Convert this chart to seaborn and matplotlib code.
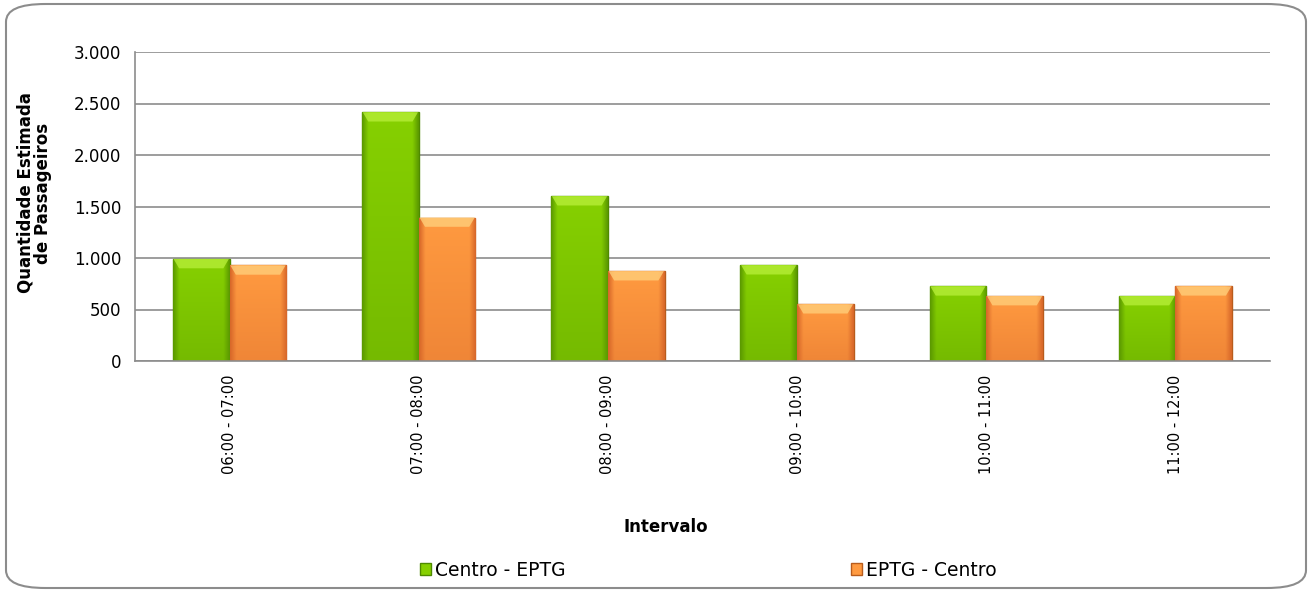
import numpy as np
import pandas as pd
import matplotlib
matplotlib.use("Agg")
import matplotlib.pyplot as plt
import seaborn as sns
from matplotlib.patches import FancyBboxPatch, Patch, Polygon
from matplotlib.ticker import FuncFormatter

intervalos = ["06:00 - 07:00", "07:00 - 08:00", "08:00 - 09:00",
              "09:00 - 10:00", "10:00 - 11:00", "11:00 - 12:00"]
centro_eptg = [990, 2415, 1600, 930, 725, 630]
eptg_centro = [928, 1393, 872, 551, 630, 725]
series = ["Centro - EPTG", "EPTG - Centro"]

df = pd.DataFrame({
    "Intervalo": intervalos * 2,
    "Valor": centro_eptg + eptg_centro,
    "Sentido": [series[0]] * 6 + [series[1]] * 6,
})

sns.set_style("white")
plt.rcParams["font.family"] = ["DejaVu Sans"]
plt.rcParams["text.color"] = "black"
plt.rcParams["axes.labelcolor"] = "black"
plt.rcParams["xtick.color"] = "black"
plt.rcParams["ytick.color"] = "black"

fig = plt.figure(figsize=(13.12, 5.92), dpi=100)
ax = fig.add_axes([135 / 1312, 1 - 361 / 592, (1270 - 135) / 1312, (361 - 52) / 592])

cores = {"Centro - EPTG": "#77c000", "EPTG - Centro": "#f58a33"}
s = sns.barplot(data=df, x="Intervalo", y="Valor", hue="Sentido", palette=cores,
                width=0.6, ax=ax, saturation=1, legend=False)

# bevel look like the office chart
bordas = {"Centro - EPTG": "#4e8a00", "EPTG - Centro": "#b85c1c"}
escuro = {"Centro - EPTG": "#5c9a00", "EPTG - Centro": "#d8682a"}
meio = {"Centro - EPTG": "#86d000", "EPTG - Centro": "#ff9a40"}
chanfro = {"Centro - EPTG": "#b6ee38", "EPTG - Centro": "#ffce7a"}
for cont, nome in zip(ax.containers, series):
    c1 = np.array(matplotlib.colors.to_rgb(escuro[nome]))
    c2 = np.array(matplotlib.colors.to_rgb(meio[nome]))
    for p in cont.patches:
        p.set_edgecolor(bordas[nome])
        p.set_linewidth(1.0)
        x0, y0 = p.get_x(), p.get_y()
        w, h = p.get_width(), p.get_height()
        t = np.linspace(0, 1, 60)
        prof = np.clip(np.sin(np.pi * t) * 3, 0, 1)
        vert = np.linspace(0.6, 1.0, 50)[:, None]
        img = c1[None, None, :] + (c2 - c1)[None, None, :] * (prof[None, :, None] * vert[:, :, None])
        im = ax.imshow(img, extent=[x0, x0 + w, y0, y0 + h], origin="lower",
                       aspect="auto", zorder=p.get_zorder() + 0.1)
        im.set_clip_path(p)
        # top chamfer (trapezoid, about 9 px high)
        dx = w * 0.11
        dy = 90
        topo = y0 + h
        ax.add_patch(Polygon([[x0 + 0.004, topo], [x0 + w - 0.004, topo],
                              [x0 + w - dx, topo - dy], [x0 + dx, topo - dy]],
                             closed=True, facecolor=chanfro[nome], edgecolor="none",
                             alpha=0.8, zorder=p.get_zorder() + 0.2))

ax.set_xlim(-0.5, 5.5)
ax.set_ylim(0, 3000)
ax.set_yticks(np.arange(0, 3001, 500))
ax.yaxis.set_major_formatter(FuncFormatter(lambda v, pos: f"{int(v):,}".replace(",", ".")))
ax.grid(axis="y", color="#8c8c8c", lw=1.2)
ax.set_axisbelow(True)
for side in ["top", "right"]:
    ax.spines[side].set_visible(False)
for side in ["left", "bottom"]:
    ax.spines[side].set_color("#8c8c8c")
    ax.spines[side].set_linewidth(1.2)

ax.set_xticks(range(6))
ax.set_xticklabels(intervalos, rotation=90, fontsize=10.5)
ax.tick_params(axis="x", length=0, pad=10)
ax.set_xticks(np.arange(-0.5, 6, 1), minor=True)
ax.tick_params(axis="x", which="minor", length=6, color="#8c8c8c", width=1.2)
ax.tick_params(axis="y", length=6, color="#8c8c8c", labelcolor="black", width=1.2,
               labelsize=12, pad=4)

ax.set_xlabel("Intervalo", fontsize=12, fontweight="bold")
ax.set_ylabel("Quantidade Estimada\nde Passageiros", fontsize=12, fontweight="bold",
              linespacing=0.95)
ax.xaxis.set_label_coords((666 - 135) / (1270 - 135), -(518 - 361) / (361 - 52))
ax.yaxis.set_label_coords(-(135 - 52) / (1270 - 135), (361 - 193) / (361 - 52))

handles = [Patch(facecolor=meio[n], edgecolor=bordas[n]) for n in series]
fig.legend(handles, series, loc="center left", bbox_to_anchor=(420 / 1312, 1 - 570 / 592),
           ncol=2, frameon=False, fontsize=13.5, handlelength=0.6, handleheight=0.6,
           handletextpad=0.2, columnspacing=15.2, borderaxespad=0, borderpad=0)

borda = FancyBboxPatch((6 / 1312, 4 / 592), 1300 / 1312, 584 / 592,
                       boxstyle="round,pad=0,rounding_size=0.03",
                       transform=fig.transFigure, facecolor="none",
                       edgecolor="#8c8c8c", lw=1.5, zorder=-1)
fig.patches.append(borda)

fig.savefig("out.png", dpi=100)
